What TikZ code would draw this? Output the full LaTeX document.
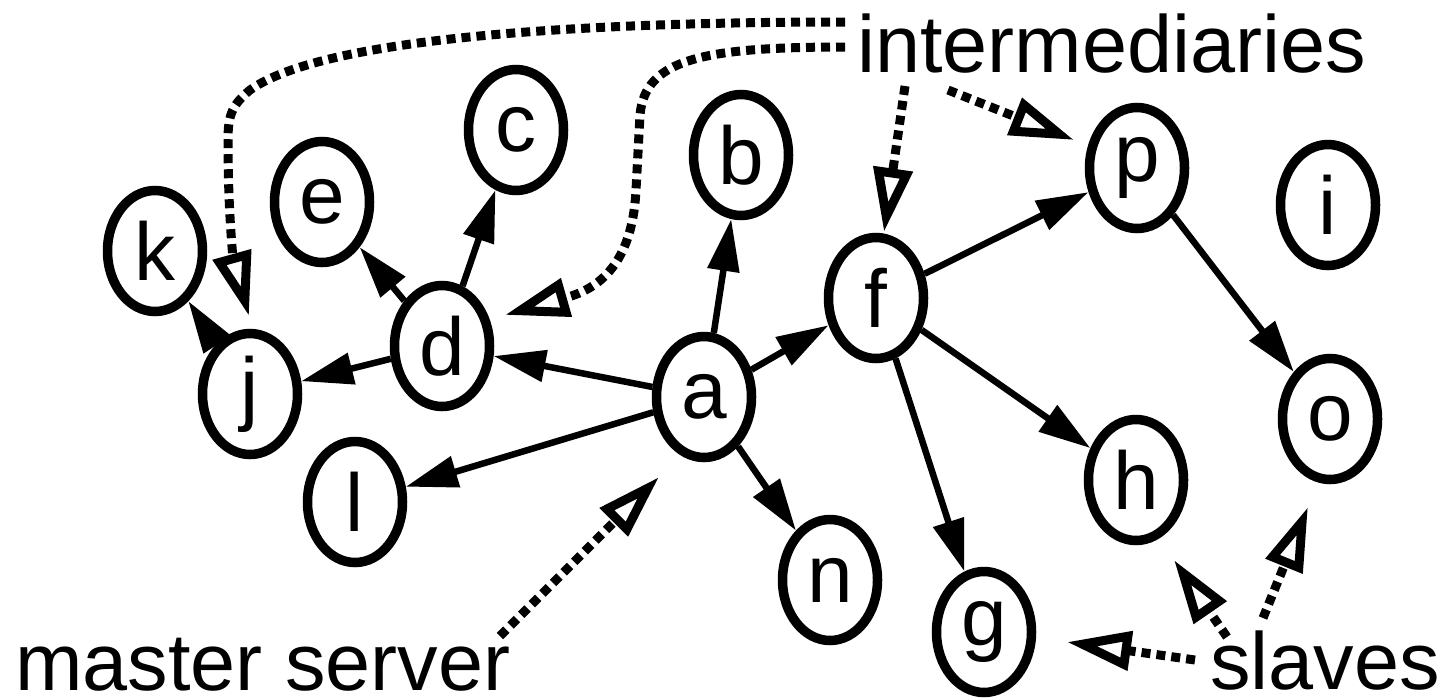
\documentclass[tikz,border=0pt]{standalone}
\usepackage{fontspec}
\setmainfont{Liberation Sans}
\usetikzlibrary{shapes.geometric,arrows.meta}
\begin{document}
\begin{tikzpicture}[x=1pt,y=-1pt,
  nd/.style={ellipse,draw,line width=9.5pt,minimum width=95pt,minimum height=121pt,inner sep=0pt,font=\fontsize{82}{98}\selectfont},
  lbl/.style={inner sep=0pt,anchor=base west,text depth=0pt,font=\fontsize{81}{97}\selectfont},
  edge/.style={line width=6.5pt,-{Triangle[length=52pt,width=31pt]}},
  pointer/.style={line width=9pt,dash pattern=on 9pt off 6pt,-{Triangle[open,length=64pt,width=38pt,line width=9pt,fill=white]}}]
\useasboundingbox (0,0) rectangle (1440,697);
% nodes
\node[nd] (k) at (155,251) {k};
\node[nd] (e) at (322,202) {e};
\node[nd] (c) at (516,130) {c};
\node[nd] (b) at (741,155) {b};
\node[nd] (d) at (442,346) {d};
\node[nd] (j) at (250,394) {j};
\node[nd] (l) at (355,502) {l};
\node[nd] (a) at (704,397) {a};
\node[nd] (f) at (876,298) {f};
\node[nd] (n) at (830,580) {n};
\node[nd] (g) at (984,632) {g};
\node[nd] (h) at (1136,480) {h};
\node[nd] (p) at (1137,168) {p};
\node[nd] (i) at (1328,205) {i};
\node[nd] (o) at (1330,419) {o};
% labels
\node[lbl] (inter) at (857,72) {intermediaries};
\node[lbl] (master) at (15,690) {master server};
\node[lbl] (slaves) at (1210,689) {slaves};
% solid edges
\draw[edge] (a) -- (b);
\draw[edge] (a) -- (f);
\draw[edge] (a) -- (d);
\draw[edge] (a) -- (l);
\draw[edge] (a) -- (n);
\draw[edge] (d) -- (c);
\draw[edge] (d) -- (e);
\draw[edge] (d) -- (j);
\draw[edge] (j) -- (k);
\draw[edge] (f) -- (p);
\draw[edge] (f) -- (h);
\draw[edge] (f) -- (g);
\draw[edge] (p) -- (o);
% pointer start points
\coordinate (iu) at (845,22);
\coordinate (il) at (845,47);
\coordinate (if) at (905,86);
\coordinate (ip) at (948,90);
\coordinate (ms) at (500,636);
\coordinate (s1) at (1195,660);
\coordinate (s2) at (1227,637);
\coordinate (s3) at (1263,618);
% dotted pointers
\draw[pointer] (iu) .. controls (560,22) and (320,40) .. (250,90)
  .. controls (232,105) and (228,115) .. (228,140)
  .. controls (228,220) and (234,262) .. ([shift={(-1,-78)}]j.center);
\draw[pointer] (il) .. controls (700,47) and (645,60) .. (640,115)
  -- (636,190) .. controls (633,250) and (610,285) .. (568,297)
  -- ([shift={(63,-31)}]d.center);
\draw[pointer] (if) -- ([shift={(8,-66)}]f.center);
\draw[pointer] (ip) -- ([shift={(-63,-28)}]p.center);
\draw[pointer] (ms) -- ([shift={(-45,80)}]a.center);
\draw[pointer] (s1) -- ([shift={(83,10)}]g.center);
\draw[pointer] (s2) -- ([shift={(38,80)}]h.center);
\draw[pointer] (s3) -- ([shift={(-22,88)}]o.center);
\end{tikzpicture}
\end{document}
